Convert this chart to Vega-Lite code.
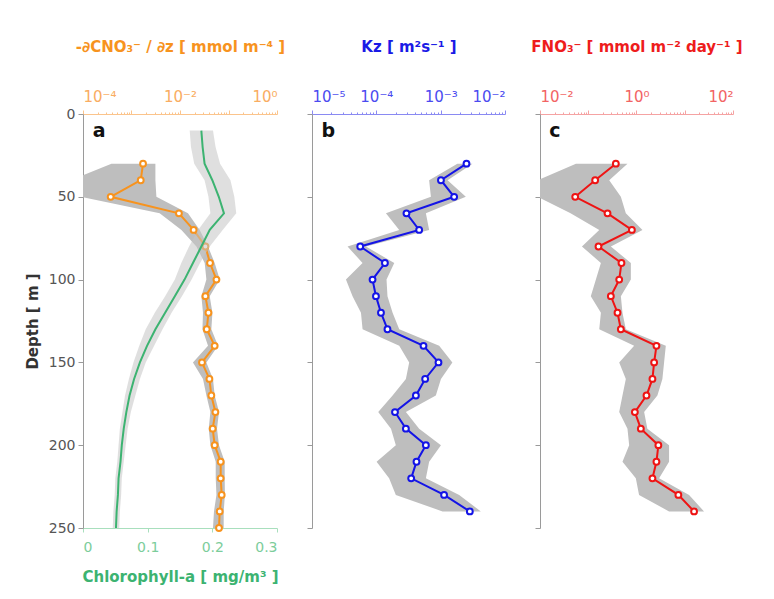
{
  "$schema": "https://vega.github.io/schema/vega-lite/v6.json",
  "background": "white",
  "padding": {"left": 25, "top": 39, "right": 5, "bottom": 5},
  "bounds": "flush",
  "spacing": 35,
  "config": {
    "font": "DejaVu Sans",
    "view": {"stroke": null},
    "axis": {"grid": false, "labelFont": "DejaVu Sans", "titleFont": "DejaVu Sans"}
  },
  "datasets": {
    "nitrate": [
      {"depth": 30, "value": 0.00173, "lo": 0.000386, "hi": 0.00311},
      {"depth": 40, "value": 0.00155, "lo": 0.000056, "hi": 0.00311},
      {"depth": 50, "value": 0.000372, "lo": 0.00009, "hi": 0.00326},
      {"depth": 60, "value": 0.0095, "lo": 0.00381, "hi": 0.0146},
      {"depth": 70, "value": 0.0191, "lo": 0.0107, "hi": 0.0255},
      {"depth": 80, "value": 0.0334, "lo": 0.0218, "hi": 0.0378},
      {"depth": 90, "value": 0.0416, "lo": 0.0323, "hi": 0.0519},
      {"depth": 100, "value": 0.0564, "lo": 0.035, "hi": 0.0659},
      {"depth": 110, "value": 0.0334, "lo": 0.0276, "hi": 0.041},
      {"depth": 120, "value": 0.0386, "lo": 0.0298, "hi": 0.0466},
      {"depth": 130, "value": 0.0356, "lo": 0.029, "hi": 0.0443},
      {"depth": 140, "value": 0.0519, "lo": 0.0378, "hi": 0.0608},
      {"depth": 150, "value": 0.0284, "lo": 0.0185, "hi": 0.035},
      {"depth": 160, "value": 0.0404, "lo": 0.0298, "hi": 0.0479},
      {"depth": 170, "value": 0.0443, "lo": 0.035, "hi": 0.0519},
      {"depth": 180, "value": 0.0537, "lo": 0.0423, "hi": 0.0637},
      {"depth": 190, "value": 0.0472, "lo": 0.0391, "hi": 0.0579},
      {"depth": 200, "value": 0.0519, "lo": 0.0423, "hi": 0.0637},
      {"depth": 210, "value": 0.069, "lo": 0.0545, "hi": 0.0835},
      {"depth": 220, "value": 0.069, "lo": 0.0545, "hi": 0.0835},
      {"depth": 230, "value": 0.0724, "lo": 0.0564, "hi": 0.0843},
      {"depth": 240, "value": 0.0659, "lo": 0.0502, "hi": 0.0796},
      {"depth": 250, "value": 0.0637, "lo": 0.0479, "hi": 0.0796}
    ],
    "chl": [
      {"depth": 10, "value": 0.183, "lo": 0.165, "hi": 0.201},
      {"depth": 20, "value": 0.185, "lo": 0.167, "hi": 0.205},
      {"depth": 30, "value": 0.188, "lo": 0.172, "hi": 0.212},
      {"depth": 40, "value": 0.2, "lo": 0.188, "hi": 0.228},
      {"depth": 50, "value": 0.21, "lo": 0.194, "hi": 0.234},
      {"depth": 60, "value": 0.218, "lo": 0.197, "hi": 0.237},
      {"depth": 70, "value": 0.196, "lo": 0.178, "hi": 0.216},
      {"depth": 80, "value": 0.183, "lo": 0.164, "hi": 0.196},
      {"depth": 90, "value": 0.17, "lo": 0.152, "hi": 0.181},
      {"depth": 100, "value": 0.157, "lo": 0.142, "hi": 0.168},
      {"depth": 110, "value": 0.142, "lo": 0.127, "hi": 0.153},
      {"depth": 120, "value": 0.127, "lo": 0.111, "hi": 0.137},
      {"depth": 130, "value": 0.112, "lo": 0.097, "hi": 0.123},
      {"depth": 140, "value": 0.099, "lo": 0.087, "hi": 0.11},
      {"depth": 150, "value": 0.088, "lo": 0.078, "hi": 0.097},
      {"depth": 160, "value": 0.079, "lo": 0.071, "hi": 0.088},
      {"depth": 170, "value": 0.072, "lo": 0.065, "hi": 0.081},
      {"depth": 180, "value": 0.067, "lo": 0.061, "hi": 0.074},
      {"depth": 190, "value": 0.063, "lo": 0.057, "hi": 0.069},
      {"depth": 200, "value": 0.06, "lo": 0.055, "hi": 0.066},
      {"depth": 210, "value": 0.058, "lo": 0.053, "hi": 0.063},
      {"depth": 220, "value": 0.055, "lo": 0.05, "hi": 0.06},
      {"depth": 230, "value": 0.054, "lo": 0.049, "hi": 0.059},
      {"depth": 240, "value": 0.052, "lo": 0.047, "hi": 0.057},
      {"depth": 250, "value": 0.051, "lo": 0.046, "hi": 0.056}
    ],
    "kz": [
      {"depth": 30, "value": 0.00252, "lo": 0.00182, "hi": 0.00312},
      {"depth": 40, "value": 0.00101, "lo": 0.000662, "hi": 0.00128},
      {"depth": 50, "value": 0.00162, "lo": 0.000705, "hi": 0.00246},
      {"depth": 60, "value": 0.000294, "lo": 0.000141, "hi": 0.000589},
      {"depth": 70, "value": 0.000463, "lo": 0.000227, "hi": 0.000662},
      {"depth": 80, "value": 0.0000562, "lo": 0.0000357, "hi": 0.000069},
      {"depth": 90, "value": 0.000136, "lo": 0.0000611, "hi": 0.00019},
      {"depth": 100, "value": 0.0000873, "lo": 0.0000337, "hi": 0.000144},
      {"depth": 110, "value": 0.0000986, "lo": 0.0000427, "hi": 0.000149},
      {"depth": 120, "value": 0.000118, "lo": 0.0000577, "hi": 0.000179},
      {"depth": 130, "value": 0.000149, "lo": 0.0000611, "hi": 0.000227},
      {"depth": 140, "value": 0.000541, "lo": 0.000227, "hi": 0.000948},
      {"depth": 150, "value": 0.000925, "lo": 0.000324, "hi": 0.00152},
      {"depth": 160, "value": 0.000574, "lo": 0.000288, "hi": 0.00101},
      {"depth": 170, "value": 0.000412, "lo": 0.000179, "hi": 0.000841},
      {"depth": 180, "value": 0.000195, "lo": 0.000107, "hi": 0.000288},
      {"depth": 190, "value": 0.000288, "lo": 0.000169, "hi": 0.000463},
      {"depth": 200, "value": 0.000589, "lo": 0.000201, "hi": 0.00101},
      {"depth": 210, "value": 0.000421, "lo": 0.000101, "hi": 0.000662},
      {"depth": 220, "value": 0.000348, "lo": 0.000158, "hi": 0.000589},
      {"depth": 230, "value": 0.00113, "lo": 0.000201, "hi": 0.00194},
      {"depth": 240, "value": 0.00284, "lo": 0.00107, "hi": 0.00421}
    ],
    "flux": [
      {"depth": 30, "value": 0.373, "lo": 0.0556, "hi": 0.65},
      {"depth": 40, "value": 0.139, "lo": 0.009, "hi": 0.272},
      {"depth": 50, "value": 0.0537, "lo": 0.009, "hi": 0.474},
      {"depth": 60, "value": 0.251, "lo": 0.043, "hi": 0.601},
      {"depth": 70, "value": 0.802, "lo": 0.169, "hi": 1.33},
      {"depth": 80, "value": 0.163, "lo": 0.074, "hi": 0.294},
      {"depth": 90, "value": 0.488, "lo": 0.183, "hi": 0.764},
      {"depth": 100, "value": 0.438, "lo": 0.144, "hi": 0.764},
      {"depth": 110, "value": 0.294, "lo": 0.113, "hi": 0.474},
      {"depth": 120, "value": 0.404, "lo": 0.183, "hi": 0.512},
      {"depth": 130, "value": 0.474, "lo": 0.169, "hi": 0.601},
      {"depth": 140, "value": 2.59, "lo": 0.893, "hi": 4.05},
      {"depth": 150, "value": 2.32, "lo": 0.438, "hi": 3.73},
      {"depth": 160, "value": 2.14, "lo": 0.601, "hi": 3.44},
      {"depth": 170, "value": 1.61, "lo": 0.512, "hi": 2.71},
      {"depth": 180, "value": 0.925, "lo": 0.438, "hi": 1.44},
      {"depth": 190, "value": 1.23, "lo": 0.65, "hi": 1.68},
      {"depth": 200, "value": 2.84, "lo": 0.705, "hi": 4.73},
      {"depth": 210, "value": 2.59, "lo": 0.512, "hi": 4.73},
      {"depth": 220, "value": 2.14, "lo": 0.968, "hi": 2.94},
      {"depth": 230, "value": 7.38, "lo": 1.13, "hi": 12.3},
      {"depth": 240, "value": 15.6, "lo": 4.73, "hi": 25.1}
    ]
  },
  "hconcat": [
    {
      "width": 194,
      "height": 414,
      "layer": [
        {
          "layer": [
            {
              "data": {"name": "nitrate"},
              "mark": {"type": "area", "orient": "horizontal", "clip": true, "color": "#bebebe"},
              "encoding": {
                "y": {
                  "field": "depth", "type": "quantitative",
                  "scale": {"domain": [0, 250], "reverse": true, "nice": false, "zero": false},
                  "axis": {"values": [0, 50, 100, 150, 200, 250], "title": "Depth  [ m ]", "titleFontWeight": "bold", "titleFontSize": 15, "titleColor": "#333333", "labelColor": "#555555", "labelFontSize": 14, "domainColor": "#9a9a9a", "tickColor": "#9a9a9a", "tickSize": 5, "labelPadding": 3, "titlePadding": 8}
                },
                "x": {
                  "field": "lo", "type": "quantitative",
                  "scale": {"type": "log", "domain": [0.0001, 1], "nice": false},
                  "axis": {
                    "orient": "top",
                    "values": [0.0001, 0.0002, 0.0003, 0.0004, 0.0005, 0.0006, 0.0007, 0.0008, 0.0009, 0.001, 0.002, 0.003, 0.004, 0.005, 0.006, 0.007, 0.008, 0.009, 0.01, 0.02, 0.03, 0.04, 0.05, 0.06, 0.07, 0.08, 0.09, 0.1, 0.2, 0.3, 0.4, 0.5, 0.6, 0.7, 0.8, 0.9, 1],
                    "labelExpr": "datum.value == 0.0001 ? '10⁻⁴' : datum.value == 0.01 ? '10⁻²' : datum.value == 1 ? '10⁰' : ''",
                    "labelOverlap": false,
                    "labelColor": "#f9ad62",
                    "labelFontSize": 15,
                    "labelPadding": 6,
                    "tickSize": {"condition": {"test": "abs(log(datum.value)/LN10 - round(log(datum.value)/LN10)) < 0.01", "value": 4}, "value": 2},
                    "domainColor": "#fbc48c",
                    "tickColor": "#fbc48c",
                    "title": "-∂CNO₃⁻ / ∂z  [ mmol m⁻⁴ ]",
                    "titleColor": "#f7931e",
                    "titleFontSize": 15,
                    "titleFontWeight": "bold",
                    "titlePadding": 35
                  }
                },
                "x2": {"field": "hi"}
              }
            },
            {
              "data": {"name": "nitrate"},
              "mark": {"type": "line", "color": "#f7931e", "strokeWidth": 2},
              "encoding": {
                "y": {"field": "depth", "type": "quantitative", "title": "Depth  [ m ]"},
                "x": {"field": "value", "type": "quantitative", "title": "-∂CNO₃⁻ / ∂z  [ mmol m⁻⁴ ]"},
                "order": {"field": "depth", "type": "quantitative"}
              }
            },
            {
              "data": {"name": "nitrate"},
              "mark": {"type": "circle", "fill": "white", "stroke": "#f7931e", "strokeWidth": 2, "size": 34, "opacity": 1, "fillOpacity": 1},
              "encoding": {
                "y": {"field": "depth", "type": "quantitative", "title": "Depth  [ m ]"},
                "x": {"field": "value", "type": "quantitative", "title": "-∂CNO₃⁻ / ∂z  [ mmol m⁻⁴ ]"}
              }
            },
            {
              "data": {"values": [{"label": "a"}]},
              "mark": {"type": "text", "align": "left", "baseline": "middle", "fontSize": 19, "fontWeight": "bold", "fill": "#111111"},
              "encoding": {
                "x": {"datum": 0.000158},
                "y": {"datum": 10},
                "text": {"field": "label"}
              }
            }
          ]
        },
        {
          "layer": [
            {
              "data": {"name": "chl"},
              "mark": {"type": "area", "orient": "horizontal", "clip": true, "color": "#c4c4c4", "opacity": 0.55},
              "encoding": {
                "y": {"field": "depth", "type": "quantitative", "title": "Depth  [ m ]"},
                "x": {
                  "field": "lo", "type": "quantitative",
                  "scale": {"domain": [0, 0.3], "nice": false, "zero": false},
                  "axis": {
                    "orient": "bottom",
                    "values": [0, 0.1, 0.2, 0.3],
                    "format": "~g",
                    "labelColor": "#7ccd9b",
                    "labelFontSize": 14,
                    "labelPadding": 8,
                    "domainColor": "#a8dfbd",
                    "tickColor": "#a8dfbd",
                    "tickSize": 4,
                    "title": "Chlorophyll-a  [ mg/m³ ]",
                    "titleColor": "#3cb371",
                    "titleFontSize": 15,
                    "titleFontWeight": "bold",
                    "titlePadding": 15
                  }
                },
                "x2": {"field": "hi"}
              }
            },
            {
              "data": {"name": "chl"},
              "mark": {"type": "line", "color": "#3cb371", "strokeWidth": 2},
              "encoding": {
                "y": {"field": "depth", "type": "quantitative", "title": "Depth  [ m ]"},
                "x": {"field": "value", "type": "quantitative", "title": "Chlorophyll-a  [ mg/m³ ]"},
                "order": {"field": "depth", "type": "quantitative"}
              }
            }
          ]
        }
      ],
      "resolve": {"scale": {"x": "independent"}, "axis": {"x": "independent"}}
    },
    {
      "width": 193,
      "height": 414,
      "layer": [
        {
          "data": {"name": "kz"},
          "mark": {"type": "area", "orient": "horizontal", "clip": true, "color": "#bebebe"},
          "encoding": {
            "y": {
              "field": "depth", "type": "quantitative",
              "scale": {"domain": [0, 250], "reverse": true, "nice": false, "zero": false},
              "axis": {"values": [0, 50, 100, 150, 200, 250], "labels": false, "title": null, "domainColor": "#9a9a9a", "tickColor": "#9a9a9a", "tickSize": 5}
            },
            "x": {
              "field": "lo", "type": "quantitative",
              "scale": {"type": "log", "domain": [0.00001, 0.01], "nice": false},
              "axis": {
                "orient": "top",
                "values": [0.00001, 0.00002, 0.00003, 0.00004, 0.00005, 0.00006, 0.00007, 0.00008, 0.00009, 0.0001, 0.0002, 0.0003, 0.0004, 0.0005, 0.0006, 0.0007, 0.0008, 0.0009, 0.001, 0.002, 0.003, 0.004, 0.005, 0.006, 0.007, 0.008, 0.009, 0.01],
                "labelExpr": "datum.value == 0.00001 ? '10⁻⁵' : datum.value == 0.0001 ? '10⁻⁴' : datum.value == 0.001 ? '10⁻³' : datum.value == 0.01 ? '10⁻²' : ''",
                "labelOverlap": false,
                "labelColor": "#4b4bf0",
                "labelFontSize": 15,
                "labelPadding": 6,
                "tickSize": {"condition": {"test": "abs(log(datum.value)/LN10 - round(log(datum.value)/LN10)) < 0.01", "value": 4}, "value": 2},
                "domainColor": "#8a8af2",
                "tickColor": "#8a8af2",
                "title": "Kz  [ m²s⁻¹ ]",
                "titleColor": "#1a1ae6",
                "titleFontSize": 15,
                "titleFontWeight": "bold",
                "titlePadding": 35
              }
            },
            "x2": {"field": "hi"}
          }
        },
        {
          "data": {"name": "kz"},
          "mark": {"type": "line", "color": "#1414e6", "strokeWidth": 2},
          "encoding": {
            "y": {"field": "depth", "type": "quantitative", "title": null},
            "x": {"field": "value", "type": "quantitative", "title": "Kz  [ m²s⁻¹ ]"},
            "order": {"field": "depth", "type": "quantitative"}
          }
        },
        {
          "data": {"name": "kz"},
          "mark": {"type": "circle", "fill": "white", "stroke": "#1414e6", "strokeWidth": 2, "size": 34, "opacity": 1, "fillOpacity": 1},
          "encoding": {
            "y": {"field": "depth", "type": "quantitative", "title": null},
            "x": {"field": "value", "type": "quantitative", "title": "Kz  [ m²s⁻¹ ]"}
          }
        },
        {
          "data": {"values": [{"label": "b"}]},
          "mark": {"type": "text", "align": "left", "baseline": "middle", "fontSize": 19, "fontWeight": "bold", "fill": "#111111"},
          "encoding": {
            "x": {"datum": 0.0000141},
            "y": {"datum": 10},
            "text": {"field": "label"}
          }
        }
      ]
    },
    {
      "width": 193,
      "height": 414,
      "layer": [
        {
          "data": {"name": "flux"},
          "mark": {"type": "area", "orient": "horizontal", "clip": true, "color": "#bebebe"},
          "encoding": {
            "y": {
              "field": "depth", "type": "quantitative",
              "scale": {"domain": [0, 250], "reverse": true, "nice": false, "zero": false},
              "axis": {"values": [0, 50, 100, 150, 200, 250], "labels": false, "title": null, "domainColor": "#9a9a9a", "tickColor": "#9a9a9a", "tickSize": 5}
            },
            "x": {
              "field": "lo", "type": "quantitative",
              "scale": {"type": "log", "domain": [0.01, 100], "nice": false},
              "axis": {
                "orient": "top",
                "values": [0.01, 0.02, 0.03, 0.04, 0.05, 0.06, 0.07, 0.08, 0.09, 0.1, 0.2, 0.3, 0.4, 0.5, 0.6, 0.7, 0.8, 0.9, 1, 2, 3, 4, 5, 6, 7, 8, 9, 10, 20, 30, 40, 50, 60, 70, 80, 90, 100],
                "labelExpr": "datum.value == 0.01 ? '10⁻²' : datum.value == 1 ? '10⁰' : datum.value == 100 ? '10²' : ''",
                "labelOverlap": false,
                "labelColor": "#f26464",
                "labelFontSize": 15,
                "labelPadding": 6,
                "tickSize": {"condition": {"test": "abs(log(datum.value)/LN10 - round(log(datum.value)/LN10)) < 0.01", "value": 4}, "value": 2},
                "domainColor": "#f5a3a3",
                "tickColor": "#f5a3a3",
                "title": "FNO₃⁻  [ mmol m⁻² day⁻¹ ]",
                "titleColor": "#ee1c1c",
                "titleFontSize": 15,
                "titleFontWeight": "bold",
                "titlePadding": 35
              }
            },
            "x2": {"field": "hi"}
          }
        },
        {
          "data": {"name": "flux"},
          "mark": {"type": "line", "color": "#ee1414", "strokeWidth": 2},
          "encoding": {
            "y": {"field": "depth", "type": "quantitative", "title": null},
            "x": {"field": "value", "type": "quantitative", "title": "FNO₃⁻  [ mmol m⁻² day⁻¹ ]"},
            "order": {"field": "depth", "type": "quantitative"}
          }
        },
        {
          "data": {"name": "flux"},
          "mark": {"type": "circle", "fill": "white", "stroke": "#ee1414", "strokeWidth": 2, "size": 34, "opacity": 1, "fillOpacity": 1},
          "encoding": {
            "y": {"field": "depth", "type": "quantitative", "title": null},
            "x": {"field": "value", "type": "quantitative", "title": "FNO₃⁻  [ mmol m⁻² day⁻¹ ]"}
          }
        },
        {
          "data": {"values": [{"label": "c"}]},
          "mark": {"type": "text", "align": "left", "baseline": "middle", "fontSize": 19, "fontWeight": "bold", "fill": "#111111"},
          "encoding": {
            "x": {"datum": 0.0156},
            "y": {"datum": 10},
            "text": {"field": "label"}
          }
        }
      ]
    }
  ]
}
